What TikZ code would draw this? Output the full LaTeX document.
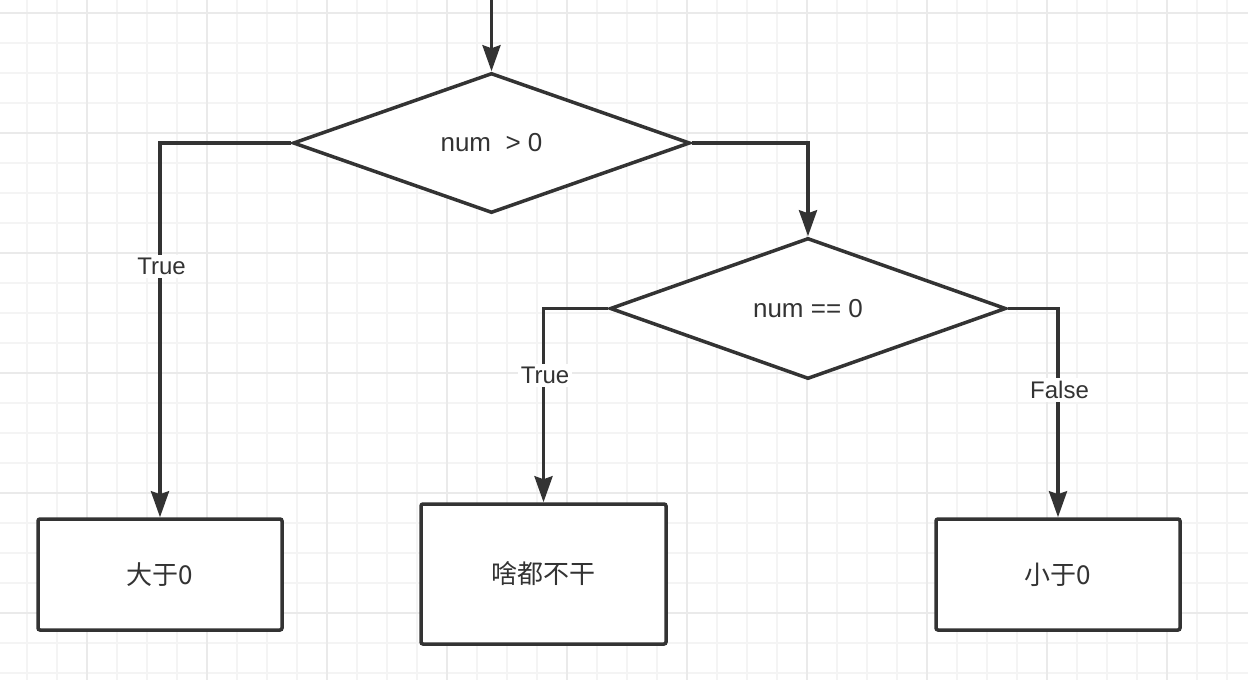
\documentclass[tikz,border=0pt]{standalone}
\usepackage{fontspec}
\setmainfont{Liberation Sans}
\newfontfamily\cjk{Noto Sans CJK SC}
\usetikzlibrary{arrows.meta, shapes.geometric, positioning}

\definecolor{ink}{HTML}{333333}
\definecolor{gridminor}{HTML}{F4F4F4}
\definecolor{gridmajor}{HTML}{EAEAEA}

\tikzset{
  decision/.style={diamond, draw=ink, line width=3.5pt, fill=white, inner sep=0pt,
    text=ink, font=\fontsize{26}{30}\selectfont},
  action/.style={rectangle, draw=ink, line width=3.5pt, fill=white, rounded corners=2pt,
    text=ink, font=\cjk\fontsize{26}{30}\selectfont},
  lbl/.style={fill=white, text=ink, inner sep=3pt, font=\fontsize{24}{28}\selectfont},
}

\begin{document}
\begin{tikzpicture}[x=1pt, y=-1pt, line width=3.5pt, draw=ink,
    >={Stealth[length=26pt, width=18pt, inset=3pt]}]
        \useasboundingbox (0,0) rectangle (1248,680);
        \fill[white] (0,0) rectangle (1248,680);
        % background grid
        \foreach \gx in {27,57,...,1247} \draw[gridminor, line width=1.5pt] (\gx,0) -- (\gx,680);
        \foreach \gy in {13,43,...,679} \draw[gridminor, line width=1.5pt] (0,\gy) -- (1248,\gy);
        \foreach \gx in {87,207,...,1247} \draw[gridmajor, line width=1.5pt] (\gx,0) -- (\gx,680);
        \foreach \gy in {13,133,...,679} \draw[gridmajor, line width=1.5pt] (0,\gy) -- (1248,\gy);

        \coordinate (entry) at (491.5,0);
        \node[decision, minimum width=397pt, minimum height=140pt] (gt) at (491.5,143) {num\ \ > 0};
        \node[decision, minimum width=396pt, minimum height=141pt] (eq) at (808,308.5) {num == 0};
        \node[action, minimum width=244pt, minimum height=111pt] (pos) at (160,574.5) {大于0};
        \node[action, minimum width=245pt, minimum height=140pt] (zero) at (543.5,574) {啥都不干};
        \node[action, minimum width=244pt, minimum height=111pt] (neg) at (1058,574.5) {小于0};

        \draw[->, ink] (entry) -- (gt.north);
        \draw[->, ink] (gt.west) -| node[lbl, pos=0.665, xshift=1.5pt] {True} (pos.north);
        \draw[->, ink] (gt.east) -| (eq.north);
        \draw[->, ink] (eq.west) -| node[lbl, pos=0.672, xshift=1.5pt] {True} (zero.north);
        \draw[->, ink] (eq.east) -| node[lbl, pos=0.695, xshift=1.5pt] {False} (neg.north);
\end{tikzpicture}
\end{document}
